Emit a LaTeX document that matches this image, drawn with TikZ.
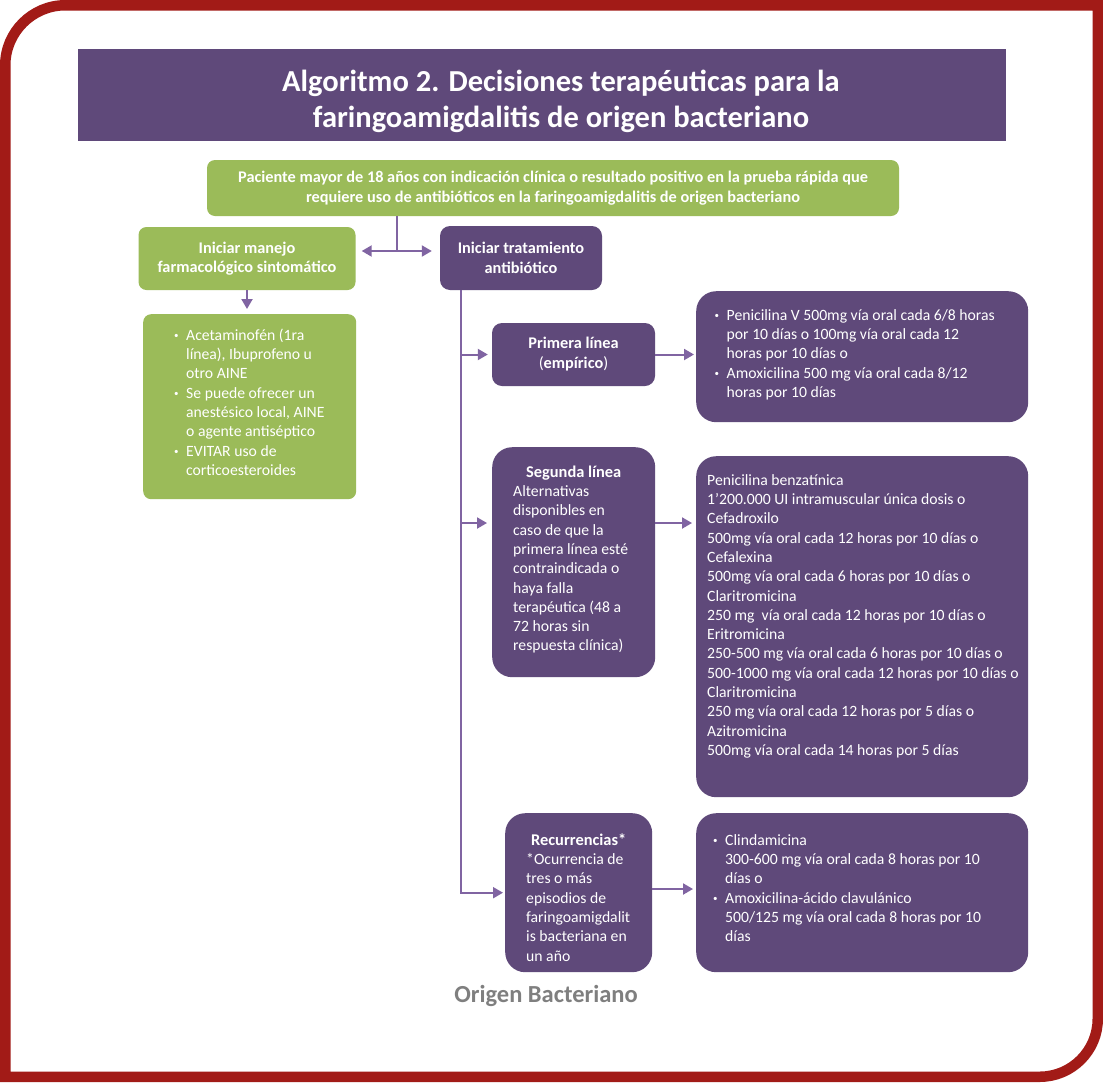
\documentclass[tikz,border=0pt]{standalone}
\usepackage{fontspec}
\setmainfont{Carlito}
\usetikzlibrary{arrows.meta}
\definecolor{plum}{HTML}{5F497A}
\definecolor{leaf}{HTML}{9BBB59}
\definecolor{rust}{HTML}{A21B17}
\definecolor{lilac}{HTML}{8064A2}
\definecolor{ash}{HTML}{7F7F7F}
\newcommand{\dotitem}{\makebox[12pt][l]{\raisebox{1.5pt}{\fontsize{9}{9}\selectfont\textbullet}}}
\newcommand{\contline}{\hspace*{12pt}}
\newcommand{\boxhead}{\fontsize{16.4}{19.3}\selectfont\bfseries}
\begin{document}
\begin{tikzpicture}
  [x=1pt, y=-1pt,
  frame/.style={draw=rust, line width=10.5pt},
  bar/.style={fill=plum, minimum width=928pt, minimum height=92pt, inner sep=0pt},
  heading/.style={text=white, align=center, font=\fontsize{30.5}{36}\selectfont\bfseries},
  greenbox/.style={fill=leaf, rounded corners=8pt, text=white, align=center, inner sep=0pt,
    font=\fontsize{16.3}{19.6}\selectfont\bfseries},
  plumbox/.style={fill=plum, rounded corners=10pt, text=white, align=center, inner sep=0pt,
    font=\fontsize{16.3}{20}\selectfont\bfseries},
  panel/.style={fill=plum, rounded corners=20pt, text=white, align=flush left, anchor=north west,
    text height=11pt, font=\fontsize{15.7}{19.3}\selectfont},
  link/.style={draw=lilac, line width=2pt},
  tip/.style={link, -{Triangle[length=10pt, width=11pt]}}]
  \path[use as bounding box, fill=white] (0,0) rectangle (1103,1082);
  \draw[frame] (5.25,1076.75) -- (5.25,65.25)
    .. controls (5.25,32.25) and (32.25,5.25) .. (65.25,5.25)
    -- (1097.75,5.25) -- (1097.75,1018.75)
    .. controls (1097.75,1050.75) and (1071.75,1076.75) .. (1039.75,1076.75) -- cycle;
  \node[bar] (bar) at (542,95) {};
  \node[heading] (title) at (561,101) {Algoritmo 2. Decisiones terapéuticas para la\\
    faringoamigdalitis de origen bacteriano};
  \node[greenbox, minimum width=692pt, minimum height=56pt] (patient) at (553,188)
    {Paciente mayor de 18 años con indicación clínica o resultado positivo en la prueba rápida que\\
    requiere uso de antibióticos en la faringoamigdalitis de origen bacteriano};
  \node[greenbox, minimum width=217pt, minimum height=63pt] (manejo) at (247,258.5)
    {Iniciar manejo\\farmacológico sintomático};
  \node[plumbox, minimum width=162pt, minimum height=64pt] (antibio) at (521,258)
    {Iniciar tratamiento\\antibiótico};
  \node[panel, fill=leaf, rounded corners=8pt, inner xsep=31pt, inner ysep=15pt,
    text width=151pt, text depth=144pt] (sintomas) at (143,314)
    {\dotitem Acetaminofén (1ra\\
    \contline línea), Ibuprofeno u\\
    \contline otro AINE\\
    \dotitem Se puede ofrecer un\\
    \contline\mbox{anestésico local, AINE}\\
    \contline o agente antiséptico\\
    \dotitem EVITAR uso de\\
    \contline corticoesteroides};
  \node[plumbox, minimum width=163pt, minimum height=63pt] (primera) at (573.5,354.5)
    {Primera línea\\\textmd{(}empírico\textmd{)}};
  \node[panel, inner xsep=18.5pt, inner ysep=18pt, text width=295pt, text depth=84pt]
    (opt1) at (696,291)
    {\dotitem Penicilina V 500mg vía oral cada 6/8 horas\\
    \contline por 10 días o 100mg vía oral cada 12\\
    \contline horas por 10 días o\\
    \dotitem Amoxicilina 500 mg vía oral cada 8/12\\
    \contline horas por 10 días};
  \node[panel, inner xsep=21pt, inner ysep=19pt, text width=121pt, text depth=181pt]
    (segunda) at (492,447)
    {{\centering\boxhead Segunda línea\par}
    Alternativas\\
    disponibles en\\
    caso de que la\\
    primera línea esté\\
    contraindicada o\\
    haya falla\\
    terapéutica (48 a\\
    72 horas sin\\
    respuesta clínica)};
  \node[panel, inner xsep=11pt, inner ysep=18pt, text width=310pt, text depth=294pt]
    (opt2) at (696,456)
    {Penicilina benzatínica\\
    1’200.000 UI intramuscular única dosis o\\
    Cefadroxilo\\
    500mg vía oral cada 12 horas por 10 días o\\
    Cefalexina\\
    500mg vía oral cada 6 horas por 10 días o\\
    Claritromicina\\
    250 mg\ \ vía oral cada 12 horas por 10 días o\\
    Eritromicina\\
    250-500 mg vía oral cada 6 horas por 10 días o\\
    \mbox{500-1000 mg vía oral cada 12 horas por 10 días o}\\
    Claritromicina\\
    250 mg vía oral cada 12 horas por 5 días o\\
    Azitromicina\\
    500mg vía oral cada 14 horas por 5 días};
  \node[panel, inner xsep=21pt, inner ysep=21pt, text width=105pt, text depth=106pt]
    (recur) at (505,813)
    {{\centering\boxhead Recurrencias*\par}
    *Ocurrencia de\\
    tres o más\\
    episodios de\\
    \mbox{faringoamigdalit}\\
    is bacteriana en\\
    un año};
  \node[panel, inner xsep=17pt, inner ysep=21pt, text width=298pt, text depth=106pt]
    (opt3) at (696,813)
    {\dotitem Clindamicina\\
    \contline 300-600 mg vía oral cada 8 horas por 10\\
    \contline días o\\
    \dotitem Amoxicilina-ácido clavulánico\\
    \contline 500/125 mg vía oral cada 8 horas por 10\\
    \contline días};
  \node[text=ash, font=\fontsize{24.5}{28}\selectfont\bfseries] (origin) at (546,996)
    {Origen Bacteriano};
  \coordinate (split) at (397,251);
  \coordinate (trunk) at ([xshift=21pt]antibio.south west);
  \draw[link] (patient.south -| split) -- (split);
  \draw[tip, shorten >=6pt] (split) -- (split -| manejo.east);
  \draw[tip, shorten >=8pt] (split) -- (split -| antibio.west);
  \draw[tip, shorten >=5pt] (manejo.south) -- (manejo.south |- sintomas.north);
  \draw[tip, shorten >=2pt] (trunk) |- (recur.west);
  \draw[tip, shorten >=4pt] (trunk |- primera.west) -- (primera.west);
  \draw[tip, shorten >=5pt] (trunk |- 0,523) -- (segunda.west |- 0,523);
  \draw[tip, shorten >=2pt] (primera.east) -- (primera.east -| opt1.west);
  \draw[tip, shorten >=4pt] (segunda.east |- 0,523) -- (opt2.west |- 0,523);
  \draw[tip, shorten >=3pt] (recur.east |- 0,889) -- (opt3.west |- 0,889);
\end{tikzpicture}
\end{document}
